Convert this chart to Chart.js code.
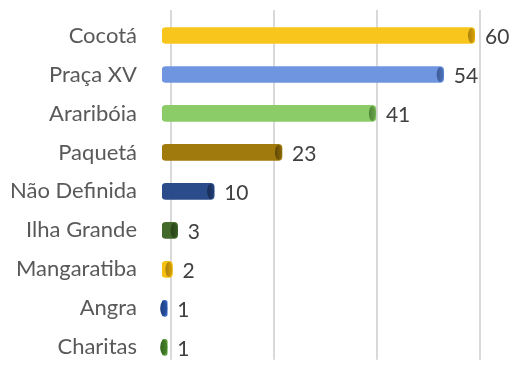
<!DOCTYPE html>
<html>
<head>
<meta charset="utf-8">
<script src="https://cdn.jsdelivr.net/npm/chart.js@4"></script>
<style>
  html, body { margin: 0; padding: 0; background: #fff; overflow: hidden; }
  #wrap { position: relative; width: 513px; height: 380px; }
</style>
</head>
<body>
<div id="wrap"><canvas id="chart"></canvas></div>
<script>
const estacoes = ['Cocotá', 'Praça XV', 'Araribóia', 'Paquetá', 'Não Definida', 'Ilha Grande', 'Mangaratiba', 'Angra', 'Charitas'];
const totais = [60, 54, 41, 23, 10, 3, 2, 1, 1];
const gridTicks = [0, 20, 40, 60];

// cylinder shading per bar: [edge, highlight, body, shadow]
const tons = [
  ['#dca400', '#ffdf40', '#f7c51c', '#a88010'],
  ['#4d72bc', '#84aaee', '#6f95e0', '#3d5a96'],
  ['#68a84a', '#a2de7e', '#8ccc68', '#4f8238'],
  ['#8a6808', '#b48c14', '#a07a0c', '#5e4604'],
  ['#223f78', '#34599e', '#2b4c8a', '#172a52'],
  ['#355a21', '#4f7e34', '#43692b', '#263f18'],
  ['#dca400', '#ffd930', '#f5c010', '#a88010'],
  ['#2a54a8', '#5584e0', '#3c68c4', '#1f3f80'],
  ['#468428', '#7abd54', '#5c9c3c', '#346420']
];

function barGradient(ctx) {
  const el = ctx.element;
  const c = tons[ctx.dataIndex];
  if (!el || el.y === undefined) return c[2];
  const h = el.height || 16;
  const g = ctx.chart.ctx.createLinearGradient(0, el.y - h / 2, 0, el.y + h / 2);
  g.addColorStop(0, c[0]);
  g.addColorStop(0.25, c[1]);
  g.addColorStop(0.5, c[2]);
  g.addColorStop(0.8, c[2]);
  g.addColorStop(1, c[3]);
  return g;
}

// back-wall gridlines, shifted right like the 3D wall
const wallGrid = {
  id: 'wallGrid',
  beforeDatasetsDraw(chart) {
    const { ctx, chartArea, scales } = chart;
    ctx.save();
    ctx.strokeStyle = '#d9d9d9';
    ctx.lineWidth = 2;
    gridTicks.forEach(v => {
      const x = Math.round(scales.x.getPixelForValue(v) + 9 - v * 0.07);
      ctx.beginPath();
      ctx.moveTo(x, chartArea.top - 6);
      ctx.lineTo(x, chartArea.bottom - 7);
      ctx.stroke();
    });
    ctx.restore();
  }
};

// end caps and value labels
const capsAndLabels = {
  id: 'capsAndLabels',
  afterDatasetsDraw(chart) {
    const { ctx } = chart;
    const meta = chart.getDatasetMeta(0);
    ctx.save();
    meta.data.forEach((bar, i) => {
      const h = bar.height;
      const c = tons[i];
      ctx.beginPath();
      ctx.ellipse(bar.x - 3.5, bar.y, 3.5, h / 2 - 0.5, 0, 0, Math.PI * 2);
      const g = ctx.createLinearGradient(bar.x - 7, 0, bar.x, 0);
      g.addColorStop(0, c[3]);
      g.addColorStop(1, c[0]);
      ctx.fillStyle = g;
      ctx.fill();
      ctx.fillStyle = '#404040';
      ctx.font = '21px Lato';
      ctx.textAlign = 'left';
      ctx.textBaseline = 'middle';
      ctx.fillText(String(totais[i]), bar.x + 10, bar.y + 2);
    });
    ctx.restore();
  }
};

new Chart(document.getElementById('chart'), {
  type: 'bar',
  data: {
    labels: estacoes,
    datasets: [{
      data: totais,
      backgroundColor: barGradient,
      borderWidth: 0,
      borderRadius: 4,
      borderSkipped: false,
      barThickness: 16
    }]
  },
  options: {
    indexAxis: 'y',
    responsive: true,
    maintainAspectRatio: false,
    animation: false,
    layout: { padding: { top: 16, right: 38, bottom: 0, left: 0 } },
    plugins: {
      legend: { display: false },
      tooltip: { enabled: false }
    },
    scales: {
      x: {
        min: 0,
        max: 60,
        display: false
      },
      y: {
        grid: { display: true, color: 'rgba(0,0,0,0)', drawOnChartArea: false, drawTicks: true, tickLength: 25 },
        border: { display: false },
        afterFit(scale) { scale.width = 162; },
        ticks: {
          padding: 0,
          color: '#595959',
          font: { family: 'Lato', size: 22 }
        }
      }
    }
  },
  plugins: [wallGrid, capsAndLabels]
});
</script>
</body>
</html>
